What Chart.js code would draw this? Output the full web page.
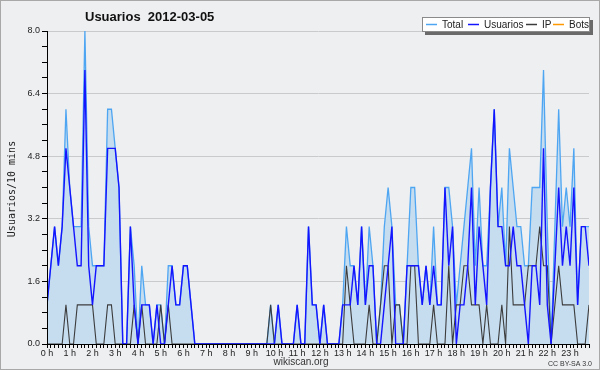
<!DOCTYPE html>
<html>
<head>
<meta charset="utf-8">
<script src="https://cdn.jsdelivr.net/npm/chart.js@4.4.0/dist/chart.umd.min.js"></script>
<style>
  html, body { margin: 0; padding: 0; background: #eeeff1; }
  #wrap { position: relative; width: 600px; height: 370px; }
</style>
</head>
<body>
<div id="wrap"><canvas id="c" width="600" height="370"></canvas></div>
<script>
// Usuarios 2012-03-05 — one value per 10 minutes (144 slots)
const hourLabels = ['0 h','1 h','2 h','3 h','4 h','5 h','6 h','7 h','8 h','9 h','10 h','11 h',
  '12 h','13 h','14 h','15 h','16 h','17 h','18 h','19 h','20 h','21 h','22 h','23 h'];

const usuarios = [
  1,2,3,2,3,5,4,3,2,2,7,2,
  1,2,2,2,5,5,5,4,0,0,3,1,
  0,1,1,1,0,1,0,0,1,2,1,1,
  2,2,1,0,0,0,0,0,0,0,0,0,
  0,0,0,0,0,0,0,0,0,0,0,0,
  0,1,0,0,0,0,1,0,0,3,1,1,
  0,1,0,0,0,0,1,1,1,2,1,3,
  1,2,2,0,0,1,2,3,0,0,0,2,
  2,2,2,1,2,1,2,1,1,4,2,3,
  0,1,1,2,4,1,3,2,1,4,6,3,
  3,2,2,3,2,2,1,0,2,2,1,5,
  1,0,2,4,2,3,2,4,1,3,3,2
];

const ip = [
  0,0,0,0,0,1,0,0,1,1,1,1,
  1,0,0,0,1,1,0,0,0,0,0,1,
  0,1,0,0,0,0,1,0,1,0,0,0,
  0,0,0,0,0,0,0,0,0,0,0,0,
  0,0,0,0,0,0,0,0,0,0,0,1,
  0,0,0,0,0,0,0,0,0,0,0,0,
  0,0,0,0,0,0,0,2,1,0,0,0,
  0,1,0,0,1,2,2,0,1,1,0,0,
  2,2,0,0,0,0,1,0,0,0,2,0,
  1,1,2,2,1,1,1,0,1,0,0,0,
  1,0,3,1,1,1,1,2,2,2,3,2,
  2,0,1,2,1,1,1,1,0,0,0,1
];

const total = [
  1,2,3,2,3,6,4,3,3,3,8,3,
  2,2,2,2,6,6,5,4,0,0,3,2,
  0,2,1,1,0,1,1,0,2,2,1,1,
  2,2,1,0,0,0,0,0,0,0,0,0,
  0,0,0,0,0,0,0,0,0,0,0,1,
  0,1,0,0,0,0,1,0,0,3,1,1,
  0,1,0,0,0,0,1,3,2,2,1,3,
  1,3,2,0,1,3,4,3,1,1,0,2,
  4,4,2,1,2,1,3,1,1,4,4,3,
  1,2,3,4,5,2,4,2,2,4,6,3,
  4,2,5,4,3,3,2,2,4,4,4,7,
  3,0,3,6,3,4,3,5,1,3,3,3
];

const bots = [
  0,0,0,0,0,0,0,0,0,0,0,0,
  0,0,0,0,0,0,0,0,0,0,0,0,
  0,0,0,0,0,0,0,0,0,0,0,0,
  0,0,0,0,0,0,0,0,0,0,0,0,
  0,0,0,0,0,0,0,0,0,0,0,0,
  0,0,0,0,0,0,0,0,0,0,0,0,
  0,0,0,0,0,0,0,0,0,0,0,0,
  0,0,0,0,0,0,0,0,0,0,0,0,
  0,0,0,0,0,0,0,0,0,0,0,0,
  0,0,0,0,0,0,0,0,0,0,0,0,
  0,0,0,0,0,0,0,0,0,0,0,0,
  0,0,0,0,0,0,0,0,0,0,0,0
];

const C = {
  total: '#4ea6f2',
  fill: '#c6ddf0',
  usuarios: '#1414ff',
  ip: '#3c3c3c',
  bots: '#ff9900',
  grid: '#c9cacc',
  text: '#222',
};
const FONT = "'Liberation Sans', Arial, sans-serif";

const pts = arr => arr.map((v, i) => ({ x: i, y: v }));
const isMajor = v => Math.abs(v / 1.6 - Math.round(v / 1.6)) < 1e-6;

const decor = {
  id: 'decor',
  beforeDraw(chart) {
    const { ctx } = chart;
    ctx.save();
    ctx.fillStyle = '#eeeff1';
    ctx.fillRect(0, 0, chart.width, chart.height);
    ctx.restore();
  },
  afterDatasetsDraw(chart) {
    const { ctx, chartArea: a } = chart;
    ctx.save();
    // axes on top of the marks
    ctx.strokeStyle = '#000';
    ctx.lineWidth = 1;
    ctx.beginPath();
    ctx.moveTo(Math.round(a.left) + 0.5, a.top);
    ctx.lineTo(Math.round(a.left) + 0.5, Math.round(a.bottom) + 0.5);
    ctx.lineTo(a.right, Math.round(a.bottom) + 0.5);
    ctx.stroke();
    ctx.restore();
  },
  afterDraw(chart) {
    const { ctx } = chart;
    ctx.save();
    // title
    ctx.fillStyle = '#111';
    ctx.font = `bold 13px ${FONT}`;
    ctx.textBaseline = 'alphabetic';
    ctx.textAlign = 'left';
    ctx.fillText('Usuarios  2012-03-05', 85, 21);

    // y title
    ctx.save();
    ctx.translate(12, 189);
    ctx.rotate(-Math.PI / 2);
    ctx.font = "10px 'DejaVu Sans Mono', monospace";
    ctx.textAlign = 'center';
    ctx.textBaseline = 'middle';
    ctx.fillStyle = C.text;
    ctx.fillText('Usuarios/10 mins', 0, 0);
    ctx.restore();

    // footer
    ctx.font = `10px ${FONT}`;
    ctx.textAlign = 'center';
    ctx.textBaseline = 'middle';
    ctx.fillStyle = '#333';
    ctx.fillText('wikiscan.org', 301, 362);
    ctx.font = `7px ${FONT}`;
    ctx.textAlign = 'right';
    ctx.fillText('CC BY-SA 3.0', 592, 364);

    // legend box with shadow
    ctx.fillStyle = '#6a6a6a';
    ctx.fillRect(425, 20, 168, 15);
    ctx.fillStyle = '#fff';
    ctx.fillRect(422, 17, 168, 15);
    ctx.strokeStyle = '#8a8a8a';
    ctx.lineWidth = 1;
    ctx.strokeRect(422.5, 17.5, 167, 14);

    const items = [
      { label: 'Total', color: C.total, x: 426 },
      { label: 'Usuarios', color: C.usuarios, x: 468 },
      { label: 'IP', color: C.ip, x: 526 },
      { label: 'Bots', color: C.bots, x: 553 },
    ];
    ctx.font = `10px ${FONT}`;
    ctx.textAlign = 'left';
    ctx.textBaseline = 'middle';
    items.forEach(it => {
      ctx.strokeStyle = it.color;
      ctx.lineWidth = 1.5;
      ctx.beginPath();
      ctx.moveTo(it.x, 24.5);
      ctx.lineTo(it.x + 11, 24.5);
      ctx.stroke();
      ctx.fillStyle = C.text;
      ctx.fillText(it.label, it.x + 16, 25);
    });

    // outer frame
    ctx.strokeStyle = '#a8a8a8';
    ctx.lineWidth = 1;
    ctx.strokeRect(0.5, 0.5, chart.width - 1, chart.height - 1);
    ctx.restore();
  },
};

new Chart(document.getElementById('c'), {
  type: 'line',
  data: {
    datasets: [
      {
        label: 'Usuarios', data: pts(usuarios), order: 1,
        borderColor: C.usuarios, borderWidth: 1.4, fill: false,
      },
      {
        label: 'IP', data: pts(ip), order: 2,
        borderColor: C.ip, borderWidth: 1.1, fill: false,
      },
      {
        label: 'Total', data: pts(total), order: 3,
        borderColor: C.total, borderWidth: 1.3,
        backgroundColor: C.fill, fill: 'origin',
      },
      {
        label: 'Bots', data: pts(bots), order: 4,
        borderColor: C.bots, borderWidth: 1.2, fill: false,
      },
    ],
  },
  options: {
    responsive: false,
    animation: false,
    events: [],
    layout: { padding: { top: 31, right: 11, left: 0, bottom: 0 } },
    elements: { point: { radius: 0 }, line: { tension: 0 } },
    plugins: {
      legend: { display: false },
      tooltip: { enabled: false },
      title: { display: false },
    },
    scales: {
      x: {
        type: 'linear',
        min: 0,
        max: 143,
        afterFit: s => { s.height = 26; },
        afterBuildTicks: s => {
          const t = [];
          for (let i = 0; i <= 143; i++) t.push({ value: i });
          s.ticks = t;
        },
        ticks: {
          autoSkip: false,
          maxRotation: 0,
          padding: 0,
          color: C.text,
          font: { size: 9, family: FONT },
          callback: v => (v % 6 === 0 ? hourLabels[v / 6] : ''),
        },
        grid: {
          drawOnChartArea: false,
          tickLength: 4,
          tickColor: '#000',
        },
        border: { display: true, color: '#000' },
      },
      y: {
        min: 0,
        max: 8,
        afterFit: s => { s.width = 47; },
        ticks: {
          stepSize: 0.4,
          padding: 2,
          color: C.text,
          font: { size: 9, family: FONT },
          callback: v => (isMajor(v) ? v.toFixed(1) : ''),
        },
        grid: {
          color: ctx => (ctx.tick && isMajor(ctx.tick.value) && ctx.tick.value > 0 ? C.grid : 'rgba(0,0,0,0)'),
          tickColor: '#000',
          tickLength: 5,
          lineWidth: 1,
        },
        border: { display: true, color: '#000' },
      },
    },
  },
  plugins: [decor],
});
</script>
</body>
</html>
